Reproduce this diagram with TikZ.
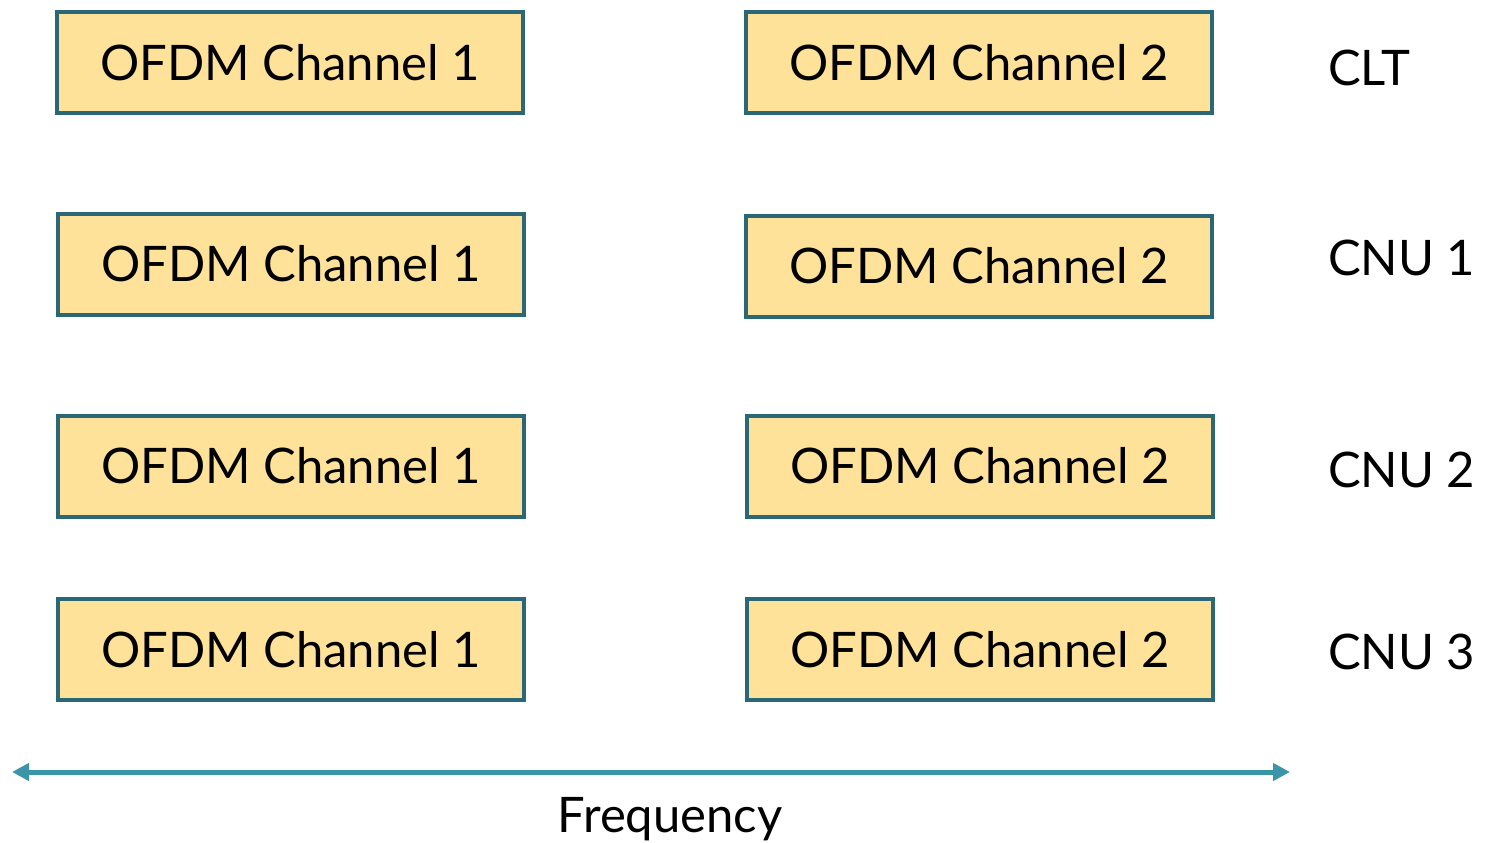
\documentclass[tikz,border=0pt]{standalone}
\usepackage{fontspec}
\setmainfont{Lato}
\usetikzlibrary{arrows.meta}
\definecolor{boxfill}{HTML}{FFE299}
\definecolor{boxline}{HTML}{2A6878}
\definecolor{axisline}{HTML}{3A95A8}
\tikzset{
  chanbox/.style={draw=boxline, fill=boxfill, line width=4pt, minimum width=466pt, minimum height=101pt, inner sep=0pt, font=\fontsize{49}{59}\selectfont},
  rowlabel/.style={anchor=west, inner sep=0pt, font=\fontsize{49}{59}\selectfont},
  freqaxis/.style={draw=axisline, line width=5pt, {Triangle[length=17pt,width=17pt]}-{Triangle[length=17pt,width=17pt]}}
}
\begin{document}
\begin{tikzpicture}[x=1pt,y=-1pt]
\useasboundingbox (0,0) rectangle (1492,843);
% channel boxes, one row per device
\node[chanbox] (a1) at (290,62.5) {OFDM Channel 1};
\node[chanbox] (b1) at (979,62.5) {OFDM Channel 2};
\node[chanbox] (a2) at (291,264) {OFDM Channel 1};
\node[chanbox] (b2) at (979,266) {OFDM Channel 2};
\node[chanbox] (a3) at (291,466) {OFDM Channel 1};
\node[chanbox] (b3) at (980,466) {OFDM Channel 2};
\node[chanbox] (a4) at (291,649.5) {OFDM Channel 1};
\node[chanbox] (b4) at (980,649.5) {OFDM Channel 2};
% device labels
\node[rowlabel] (l1) at (1328,68) {CLT};
\node[rowlabel] (l2) at (1328,258) {CNU 1};
\node[rowlabel] (l3) at (1328,470) {CNU 2};
\node[rowlabel] (l4) at (1328,652) {CNU 3};
% frequency axis
\coordinate (fl) at (12,772);
\coordinate (fr) at (1290,772);
\draw[freqaxis] (fl) -- (fr);
\node[font=\fontsize{49}{59}\selectfont] (freq) at (670,819) {Frequency};
\end{tikzpicture}
\end{document}
